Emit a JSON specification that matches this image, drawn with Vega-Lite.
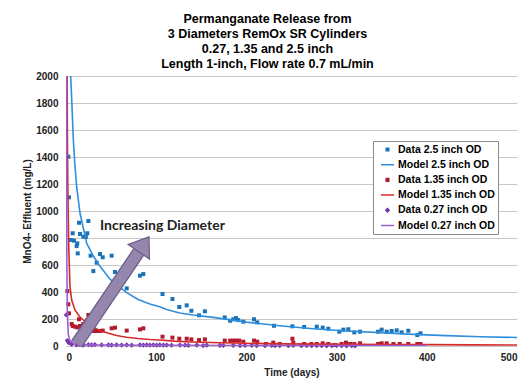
{
  "$schema": "https://vega.github.io/schema/vega-lite/v6.json",
  "width": 451,
  "height": 270,
  "autosize": {"type": "none"},
  "padding": {"left": 66, "top": 76, "right": 14, "bottom": 42},
  "background": "white",
  "title": {
    "text": ["Permanganate Release from", "3 Diameters RemOx SR Cylinders", "0.27, 1.35 and 2.5 inch", "Length 1-inch, Flow rate 0.7 mL/min"],
    "font": "Liberation Sans",
    "fontSize": 12.5,
    "fontWeight": "bold",
    "color": "#000000",
    "lineHeight": 15,
    "anchor": "middle",
    "frame": "group",
    "dx": -24,
    "offset": 1
  },
  "config": {
    "view": {"stroke": null},
    "axis": {
      "labelFont": "Liberation Sans",
      "labelFontWeight": "bold",
      "labelFontSize": 10,
      "labelColor": "#222222",
      "titleFont": "Liberation Sans",
      "titleFontWeight": "bold",
      "titleFontSize": 10,
      "titleColor": "#222222",
      "domain": false,
      "ticks": false,
      "labelOverlap": false
    },
    "legend": {
      "orient": "none",
      "legendX": 307,
      "legendY": 65,
      "padding": 3,
      "fillColor": "white",
      "strokeColor": "#8c8c8c",
      "labelFont": "Liberation Sans",
      "labelFontWeight": "bold",
      "labelFontSize": 10.5,
      "labelColor": "#000000",
      "symbolSize": 169,
      "symbolStrokeWidth": 1.5,
      "clipHeight": 11,
      "rowPadding": 4.2,
      "symbolOffset": 4,
      "labelOffset": 3
    }
  },
  "datasets": {
    "obs": [
      {"series": "Data 2.5 inch OD", "day": 2.6, "mg": 1402},
      {"series": "Data 2.5 inch OD", "day": 3.3, "mg": 1101},
      {"series": "Data 2.5 inch OD", "day": 7.4, "mg": 835},
      {"series": "Data 2.5 inch OD", "day": 5.5, "mg": 785},
      {"series": "Data 2.5 inch OD", "day": 8.9, "mg": 780},
      {"series": "Data 2.5 inch OD", "day": 12.5, "mg": 760},
      {"series": "Data 2.5 inch OD", "day": 11.8, "mg": 740},
      {"series": "Data 2.5 inch OD", "day": 13, "mg": 686},
      {"series": "Data 2.5 inch OD", "day": 14.4, "mg": 913},
      {"series": "Data 2.5 inch OD", "day": 15.5, "mg": 830},
      {"series": "Data 2.5 inch OD", "day": 19.2, "mg": 810},
      {"series": "Data 2.5 inch OD", "day": 22, "mg": 807},
      {"series": "Data 2.5 inch OD", "day": 23.6, "mg": 835},
      {"series": "Data 2.5 inch OD", "day": 24.8, "mg": 926},
      {"series": "Data 2.5 inch OD", "day": 27.3, "mg": 669},
      {"series": "Data 2.5 inch OD", "day": 30.3, "mg": 555},
      {"series": "Data 2.5 inch OD", "day": 34, "mg": 617},
      {"series": "Data 2.5 inch OD", "day": 37.7, "mg": 681},
      {"series": "Data 2.5 inch OD", "day": 40.7, "mg": 657},
      {"series": "Data 2.5 inch OD", "day": 50.6, "mg": 669},
      {"series": "Data 2.5 inch OD", "day": 54.3, "mg": 548},
      {"series": "Data 2.5 inch OD", "day": 67.3, "mg": 427},
      {"series": "Data 2.5 inch OD", "day": 82, "mg": 521},
      {"series": "Data 2.5 inch OD", "day": 85.7, "mg": 533},
      {"series": "Data 2.5 inch OD", "day": 107, "mg": 385},
      {"series": "Data 2.5 inch OD", "day": 118, "mg": 348},
      {"series": "Data 2.5 inch OD", "day": 125.6, "mg": 289},
      {"series": "Data 2.5 inch OD", "day": 133.8, "mg": 301},
      {"series": "Data 2.5 inch OD", "day": 139, "mg": 261},
      {"series": "Data 2.5 inch OD", "day": 147.5, "mg": 227},
      {"series": "Data 2.5 inch OD", "day": 154, "mg": 257},
      {"series": "Data 2.5 inch OD", "day": 176, "mg": 212},
      {"series": "Data 2.5 inch OD", "day": 182, "mg": 187},
      {"series": "Data 2.5 inch OD", "day": 185.5, "mg": 198},
      {"series": "Data 2.5 inch OD", "day": 188.5, "mg": 207},
      {"series": "Data 2.5 inch OD", "day": 191, "mg": 192},
      {"series": "Data 2.5 inch OD", "day": 196.6, "mg": 180},
      {"series": "Data 2.5 inch OD", "day": 208.4, "mg": 198},
      {"series": "Data 2.5 inch OD", "day": 212, "mg": 175},
      {"series": "Data 2.5 inch OD", "day": 230.6, "mg": 150},
      {"series": "Data 2.5 inch OD", "day": 251, "mg": 146},
      {"series": "Data 2.5 inch OD", "day": 264, "mg": 141},
      {"series": "Data 2.5 inch OD", "day": 278, "mg": 143},
      {"series": "Data 2.5 inch OD", "day": 284.6, "mg": 136},
      {"series": "Data 2.5 inch OD", "day": 290.8, "mg": 128},
      {"series": "Data 2.5 inch OD", "day": 303, "mg": 106},
      {"series": "Data 2.5 inch OD", "day": 307.5, "mg": 121},
      {"series": "Data 2.5 inch OD", "day": 313, "mg": 124},
      {"series": "Data 2.5 inch OD", "day": 319.6, "mg": 101},
      {"series": "Data 2.5 inch OD", "day": 326, "mg": 106},
      {"series": "Data 2.5 inch OD", "day": 346, "mg": 106},
      {"series": "Data 2.5 inch OD", "day": 350, "mg": 121},
      {"series": "Data 2.5 inch OD", "day": 355.5, "mg": 106},
      {"series": "Data 2.5 inch OD", "day": 361, "mg": 111},
      {"series": "Data 2.5 inch OD", "day": 366.6, "mg": 116},
      {"series": "Data 2.5 inch OD", "day": 372, "mg": 101},
      {"series": "Data 2.5 inch OD", "day": 379.5, "mg": 113},
      {"series": "Data 2.5 inch OD", "day": 389.5, "mg": 81},
      {"series": "Data 2.5 inch OD", "day": 393, "mg": 94},

      {"series": "Data 1.35 inch OD", "day": 1.5, "mg": 407},
      {"series": "Data 1.35 inch OD", "day": 2.6, "mg": 309},
      {"series": "Data 1.35 inch OD", "day": 3.3, "mg": 242},
      {"series": "Data 1.35 inch OD", "day": 6.3, "mg": 163},
      {"series": "Data 1.35 inch OD", "day": 7.4, "mg": 148},
      {"series": "Data 1.35 inch OD", "day": 10, "mg": 143},
      {"series": "Data 1.35 inch OD", "day": 12.5, "mg": 138},
      {"series": "Data 1.35 inch OD", "day": 14.4, "mg": 198},
      {"series": "Data 1.35 inch OD", "day": 15.5, "mg": 148},
      {"series": "Data 1.35 inch OD", "day": 19.2, "mg": 163},
      {"series": "Data 1.35 inch OD", "day": 22, "mg": 173},
      {"series": "Data 1.35 inch OD", "day": 23.6, "mg": 193},
      {"series": "Data 1.35 inch OD", "day": 24.8, "mg": 230},
      {"series": "Data 1.35 inch OD", "day": 26.6, "mg": 123},
      {"series": "Data 1.35 inch OD", "day": 31, "mg": 111},
      {"series": "Data 1.35 inch OD", "day": 34, "mg": 111},
      {"series": "Data 1.35 inch OD", "day": 37.7, "mg": 111},
      {"series": "Data 1.35 inch OD", "day": 40.7, "mg": 114},
      {"series": "Data 1.35 inch OD", "day": 50.6, "mg": 131},
      {"series": "Data 1.35 inch OD", "day": 54.3, "mg": 136},
      {"series": "Data 1.35 inch OD", "day": 67.3, "mg": 114},
      {"series": "Data 1.35 inch OD", "day": 82, "mg": 123},
      {"series": "Data 1.35 inch OD", "day": 85.7, "mg": 131},
      {"series": "Data 1.35 inch OD", "day": 107, "mg": 69},
      {"series": "Data 1.35 inch OD", "day": 118, "mg": 62},
      {"series": "Data 1.35 inch OD", "day": 125.6, "mg": 54},
      {"series": "Data 1.35 inch OD", "day": 133.8, "mg": 54},
      {"series": "Data 1.35 inch OD", "day": 139, "mg": 49},
      {"series": "Data 1.35 inch OD", "day": 147.5, "mg": 44},
      {"series": "Data 1.35 inch OD", "day": 154, "mg": 49},
      {"series": "Data 1.35 inch OD", "day": 176, "mg": 40},
      {"series": "Data 1.35 inch OD", "day": 182, "mg": 40},
      {"series": "Data 1.35 inch OD", "day": 185.5, "mg": 40},
      {"series": "Data 1.35 inch OD", "day": 188.5, "mg": 40},
      {"series": "Data 1.35 inch OD", "day": 192, "mg": 40},
      {"series": "Data 1.35 inch OD", "day": 196.6, "mg": 32},
      {"series": "Data 1.35 inch OD", "day": 208.4, "mg": 40},
      {"series": "Data 1.35 inch OD", "day": 212, "mg": 32},
      {"series": "Data 1.35 inch OD", "day": 221.7, "mg": 15},
      {"series": "Data 1.35 inch OD", "day": 229.8, "mg": 25},
      {"series": "Data 1.35 inch OD", "day": 237, "mg": 15},
      {"series": "Data 1.35 inch OD", "day": 251, "mg": 54},
      {"series": "Data 1.35 inch OD", "day": 252, "mg": 25},
      {"series": "Data 1.35 inch OD", "day": 264, "mg": 15},
      {"series": "Data 1.35 inch OD", "day": 272, "mg": 15},
      {"series": "Data 1.35 inch OD", "day": 278, "mg": 15},
      {"series": "Data 1.35 inch OD", "day": 284.6, "mg": 20},
      {"series": "Data 1.35 inch OD", "day": 290.8, "mg": 15},
      {"series": "Data 1.35 inch OD", "day": 298, "mg": 7},
      {"series": "Data 1.35 inch OD", "day": 305.6, "mg": 15},
      {"series": "Data 1.35 inch OD", "day": 310.4, "mg": 25},
      {"series": "Data 1.35 inch OD", "day": 315, "mg": 15},
      {"series": "Data 1.35 inch OD", "day": 319.6, "mg": 15},
      {"series": "Data 1.35 inch OD", "day": 326, "mg": 20},
      {"series": "Data 1.35 inch OD", "day": 346, "mg": 15},
      {"series": "Data 1.35 inch OD", "day": 350, "mg": 20},
      {"series": "Data 1.35 inch OD", "day": 355.5, "mg": 20},
      {"series": "Data 1.35 inch OD", "day": 363, "mg": 15},
      {"series": "Data 1.35 inch OD", "day": 370, "mg": 15},
      {"series": "Data 1.35 inch OD", "day": 379.5, "mg": 15},
      {"series": "Data 1.35 inch OD", "day": 389.5, "mg": 15},
      {"series": "Data 1.35 inch OD", "day": 393, "mg": 15},

      {"series": "Data 0.27 inch OD", "day": 0.3, "mg": 230},
      {"series": "Data 0.27 inch OD", "day": 1.5, "mg": 40},
      {"series": "Data 0.27 inch OD", "day": 3, "mg": 25},
      {"series": "Data 0.27 inch OD", "day": 6.3, "mg": 12},
      {"series": "Data 0.27 inch OD", "day": 11.8, "mg": 8},
      {"series": "Data 0.27 inch OD", "day": 15.5, "mg": 10},
      {"series": "Data 0.27 inch OD", "day": 19.2, "mg": 7},
      {"series": "Data 0.27 inch OD", "day": 24.8, "mg": 10},
      {"series": "Data 0.27 inch OD", "day": 28.4, "mg": 8},
      {"series": "Data 0.27 inch OD", "day": 32, "mg": 10},
      {"series": "Data 0.27 inch OD", "day": 39.5, "mg": 8},
      {"series": "Data 0.27 inch OD", "day": 47, "mg": 8},
      {"series": "Data 0.27 inch OD", "day": 50.6, "mg": 7},
      {"series": "Data 0.27 inch OD", "day": 56, "mg": 8},
      {"series": "Data 0.27 inch OD", "day": 61.7, "mg": 7},
      {"series": "Data 0.27 inch OD", "day": 67.3, "mg": 8},
      {"series": "Data 0.27 inch OD", "day": 72.8, "mg": 6},
      {"series": "Data 0.27 inch OD", "day": 82, "mg": 8},
      {"series": "Data 0.27 inch OD", "day": 85.7, "mg": 7},
      {"series": "Data 0.27 inch OD", "day": 89.4, "mg": 8},
      {"series": "Data 0.27 inch OD", "day": 93, "mg": 7},
      {"series": "Data 0.27 inch OD", "day": 96.8, "mg": 8},
      {"series": "Data 0.27 inch OD", "day": 100.5, "mg": 6},
      {"series": "Data 0.27 inch OD", "day": 104, "mg": 8},
      {"series": "Data 0.27 inch OD", "day": 108, "mg": 7},
      {"series": "Data 0.27 inch OD", "day": 111.6, "mg": 7},
      {"series": "Data 0.27 inch OD", "day": 117, "mg": 6},
      {"series": "Data 0.27 inch OD", "day": 126.4, "mg": 7},
      {"series": "Data 0.27 inch OD", "day": 132, "mg": 6},
      {"series": "Data 0.27 inch OD", "day": 135.6, "mg": 5},
      {"series": "Data 0.27 inch OD", "day": 145, "mg": 7},
      {"series": "Data 0.27 inch OD", "day": 152, "mg": 3},
      {"series": "Data 0.27 inch OD", "day": 156, "mg": 6},
      {"series": "Data 0.27 inch OD", "day": 170.7, "mg": 5},
      {"series": "Data 0.27 inch OD", "day": 174.4, "mg": 4},
      {"series": "Data 0.27 inch OD", "day": 185.5, "mg": 5},
      {"series": "Data 0.27 inch OD", "day": 193, "mg": 3},
      {"series": "Data 0.27 inch OD", "day": 198.4, "mg": 4},
      {"series": "Data 0.27 inch OD", "day": 206, "mg": 5},
      {"series": "Data 0.27 inch OD", "day": 211.4, "mg": 3},
      {"series": "Data 0.27 inch OD", "day": 220.6, "mg": 2},
      {"series": "Data 0.27 inch OD", "day": 228, "mg": 4},
      {"series": "Data 0.27 inch OD", "day": 231.7, "mg": 2},
      {"series": "Data 0.27 inch OD", "day": 237, "mg": 3},
      {"series": "Data 0.27 inch OD", "day": 246.5, "mg": 2},
      {"series": "Data 0.27 inch OD", "day": 252, "mg": 4},
      {"series": "Data 0.27 inch OD", "day": 261, "mg": 2},
      {"series": "Data 0.27 inch OD", "day": 266.8, "mg": 3},
      {"series": "Data 0.27 inch OD", "day": 272.4, "mg": 2},
      {"series": "Data 0.27 inch OD", "day": 278, "mg": 3},
      {"series": "Data 0.27 inch OD", "day": 283.5, "mg": 2},
      {"series": "Data 0.27 inch OD", "day": 289, "mg": 1},
      {"series": "Data 0.27 inch OD", "day": 294.6, "mg": 2},
      {"series": "Data 0.27 inch OD", "day": 300, "mg": 3},
      {"series": "Data 0.27 inch OD", "day": 305.6, "mg": 2},
      {"series": "Data 0.27 inch OD", "day": 311, "mg": 1},
      {"series": "Data 0.27 inch OD", "day": 316.7, "mg": 2},
      {"series": "Data 0.27 inch OD", "day": 320.4, "mg": 1}
    ],
    "mod": [
      {"series": "Model 2.5 inch OD", "day": 5.2, "mg": 2000},
      {"series": "Model 2.5 inch OD", "day": 6.5, "mg": 1800},
      {"series": "Model 2.5 inch OD", "day": 8.1, "mg": 1530},
      {"series": "Model 2.5 inch OD", "day": 10, "mg": 1330},
      {"series": "Model 2.5 inch OD", "day": 11.8, "mg": 1180},
      {"series": "Model 2.5 inch OD", "day": 15.5, "mg": 985},
      {"series": "Model 2.5 inch OD", "day": 23, "mg": 760},
      {"series": "Model 2.5 inch OD", "day": 30, "mg": 670},
      {"series": "Model 2.5 inch OD", "day": 37.7, "mg": 590},
      {"series": "Model 2.5 inch OD", "day": 48.8, "mg": 495},
      {"series": "Model 2.5 inch OD", "day": 56, "mg": 455},
      {"series": "Model 2.5 inch OD", "day": 67.3, "mg": 395},
      {"series": "Model 2.5 inch OD", "day": 80, "mg": 345},
      {"series": "Model 2.5 inch OD", "day": 93, "mg": 311},
      {"series": "Model 2.5 inch OD", "day": 104, "mg": 290},
      {"series": "Model 2.5 inch OD", "day": 111.6, "mg": 270},
      {"series": "Model 2.5 inch OD", "day": 126, "mg": 245},
      {"series": "Model 2.5 inch OD", "day": 141, "mg": 230},
      {"series": "Model 2.5 inch OD", "day": 163, "mg": 212},
      {"series": "Model 2.5 inch OD", "day": 200, "mg": 177},
      {"series": "Model 2.5 inch OD", "day": 237, "mg": 150},
      {"series": "Model 2.5 inch OD", "day": 274, "mg": 128},
      {"series": "Model 2.5 inch OD", "day": 311, "mg": 111},
      {"series": "Model 2.5 inch OD", "day": 348, "mg": 99},
      {"series": "Model 2.5 inch OD", "day": 385, "mg": 86},
      {"series": "Model 2.5 inch OD", "day": 422, "mg": 77},
      {"series": "Model 2.5 inch OD", "day": 459, "mg": 69},
      {"series": "Model 2.5 inch OD", "day": 500, "mg": 63},

      {"series": "Model 1.35 inch OD", "day": 1.2, "mg": 2000},
      {"series": "Model 1.35 inch OD", "day": 1.6, "mg": 1500},
      {"series": "Model 1.35 inch OD", "day": 2.2, "mg": 1100},
      {"series": "Model 1.35 inch OD", "day": 3, "mg": 750},
      {"series": "Model 1.35 inch OD", "day": 4.4, "mg": 440},
      {"series": "Model 1.35 inch OD", "day": 6.3, "mg": 340},
      {"series": "Model 1.35 inch OD", "day": 10, "mg": 265},
      {"series": "Model 1.35 inch OD", "day": 15.5, "mg": 215},
      {"series": "Model 1.35 inch OD", "day": 23, "mg": 170},
      {"series": "Model 1.35 inch OD", "day": 30, "mg": 140},
      {"series": "Model 1.35 inch OD", "day": 37.7, "mg": 115},
      {"series": "Model 1.35 inch OD", "day": 48, "mg": 92},
      {"series": "Model 1.35 inch OD", "day": 56, "mg": 78},
      {"series": "Model 1.35 inch OD", "day": 67, "mg": 65},
      {"series": "Model 1.35 inch OD", "day": 80, "mg": 55},
      {"series": "Model 1.35 inch OD", "day": 93, "mg": 48},
      {"series": "Model 1.35 inch OD", "day": 104, "mg": 44},
      {"series": "Model 1.35 inch OD", "day": 120, "mg": 36},
      {"series": "Model 1.35 inch OD", "day": 140, "mg": 30},
      {"series": "Model 1.35 inch OD", "day": 170, "mg": 24},
      {"series": "Model 1.35 inch OD", "day": 200, "mg": 20},
      {"series": "Model 1.35 inch OD", "day": 240, "mg": 16},
      {"series": "Model 1.35 inch OD", "day": 280, "mg": 14},
      {"series": "Model 1.35 inch OD", "day": 320, "mg": 12},
      {"series": "Model 1.35 inch OD", "day": 360, "mg": 11},
      {"series": "Model 1.35 inch OD", "day": 400, "mg": 10},
      {"series": "Model 1.35 inch OD", "day": 450, "mg": 8},
      {"series": "Model 1.35 inch OD", "day": 500, "mg": 7},

      {"series": "Model 0.27 inch OD", "day": 0.5, "mg": 2000},
      {"series": "Model 0.27 inch OD", "day": 0.7, "mg": 1200},
      {"series": "Model 0.27 inch OD", "day": 1, "mg": 600},
      {"series": "Model 0.27 inch OD", "day": 1.5, "mg": 250},
      {"series": "Model 0.27 inch OD", "day": 2.5, "mg": 90},
      {"series": "Model 0.27 inch OD", "day": 4, "mg": 45},
      {"series": "Model 0.27 inch OD", "day": 8, "mg": 22},
      {"series": "Model 0.27 inch OD", "day": 15, "mg": 12},
      {"series": "Model 0.27 inch OD", "day": 30, "mg": 8},
      {"series": "Model 0.27 inch OD", "day": 60, "mg": 6},
      {"series": "Model 0.27 inch OD", "day": 100, "mg": 5},
      {"series": "Model 0.27 inch OD", "day": 200, "mg": 4},
      {"series": "Model 0.27 inch OD", "day": 300, "mg": 3},
      {"series": "Model 0.27 inch OD", "day": 400, "mg": 3}
    ],
    "arrow": [
      {"day": 11.8, "mg": 15, "day2": 80.7, "mg2": 698}
    ],
    "head": [
      {"day": 80.7, "mg": 698}
    ],
    "note": [
      {"label": "Increasing Diameter", "day": 37.7, "mg": 889}
    ]
  },
  "layer": [
    {
      "data": {"name": "obs"},
      "mark": {"type": "point", "filled": true, "size": 400, "opacity": 1},
      "encoding": {
        "x": {"field": "day", "type": "quantitative", "scale": {"domain": [0, 500], "nice": false},
          "axis": {"values": [0, 100, 200, 300, 400, 500], "tickCount": 6, "format": "d", "grid": false, "title": "Time (days)", "labelPadding": 6, "titlePadding": 5}},
        "y": {"field": "mg", "type": "quantitative", "scale": {"domain": [0, 2000], "nice": false},
          "axis": {"values": [0, 200, 400, 600, 800, 1000, 1200, 1400, 1600, 1800, 2000], "tickCount": 11, "format": "d", "grid": true, "gridColor": "#c8c8c8", "gridWidth": 1, "title": "MnO4- Effluent (mg/L)", "labelPadding": 8, "titlePadding": 3}},
        "color": {"field": "series", "type": "nominal",
          "scale": {
            "domain": ["Data 2.5 inch OD", "Model 2.5 inch OD", "Data 1.35 inch OD", "Model 1.35 inch OD", "Data 0.27 inch OD", "Model 0.27 inch OD"],
            "range": ["#1a73b8", "#2f8fdc", "#b01c2e", "#d62a2a", "#7436a8", "#9a5fd0"]
          },
          "legend": {
            "title": null,
            "encode": {"symbols": {"update": {"stroke": {"scale": "color", "field": "value"}, "fill": {"scale": "color", "field": "value"}, "strokeWidth": {"value": 1.5}, "opacity": {"value": 1}}}}
          }
        },
        "shape": {"field": "series", "type": "nominal",
          "scale": {
            "domain": ["Data 2.5 inch OD", "Model 2.5 inch OD", "Data 1.35 inch OD", "Model 1.35 inch OD", "Data 0.27 inch OD", "Model 0.27 inch OD"],
            "range": ["M-0.2,-0.2H0.2V0.2H-0.2Z", "M-1,0H1", "M-0.2,-0.2H0.2V0.2H-0.2Z", "M-1,0H1", "M0,-0.26L0.26,0L0,0.26L-0.26,0Z", "M-1,0H1"]
          },
          "legend": {"title": null}
        }
      }
    },
    {
      "data": {"name": "mod"},
      "mark": {"type": "line", "strokeWidth": 1.6, "clip": true},
      "encoding": {
        "x": {"field": "day", "type": "quantitative"},
        "y": {"field": "mg", "type": "quantitative"},
        "color": {"field": "series", "type": "nominal"}
      }
    },
    {
      "data": {"name": "arrow"},
      "mark": {"type": "rule", "strokeWidth": 13, "color": "#6a5c8a", "strokeCap": "butt"},
      "encoding": {
        "x": {"field": "day", "type": "quantitative"},
        "y": {"field": "mg", "type": "quantitative"},
        "x2": {"field": "day2"},
        "y2": {"field": "mg2"}
      }
    },
    {
      "data": {"name": "arrow"},
      "mark": {"type": "rule", "strokeWidth": 10.5, "color": "#9486ad", "strokeCap": "butt"},
      "encoding": {
        "x": {"field": "day", "type": "quantitative"},
        "y": {"field": "mg", "type": "quantitative"},
        "x2": {"field": "day2"},
        "y2": {"field": "mg2"}
      }
    },
    {
      "data": {"name": "head"},
      "mark": {"type": "point", "shape": "M0,-1L0.72,0L-0.72,0Z", "size": 1296, "angle": 34.6, "filled": true, "fill": "#9486ad", "stroke": "#6a5c8a", "strokeWidth": 1.2, "opacity": 1},
      "encoding": {
        "x": {"field": "day", "type": "quantitative"},
        "y": {"field": "mg", "type": "quantitative"}
      }
    },
    {
      "data": {"name": "note"},
      "mark": {"type": "text", "font": "Lato", "fontWeight": "bold", "fontSize": 14, "align": "left", "baseline": "middle", "color": "#222222"},
      "encoding": {
        "x": {"field": "day", "type": "quantitative"},
        "y": {"field": "mg", "type": "quantitative"},
        "text": {"field": "label"}
      }
    }
  ]
}
